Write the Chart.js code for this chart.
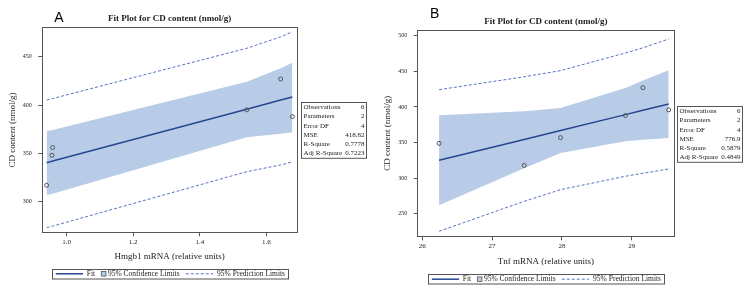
<!DOCTYPE html>
<html>
<head>
<meta charset="utf-8">
<script src="https://cdn.jsdelivr.net/npm/chart.js@4.4.1/dist/chart.umd.min.js"></script>
<style>
  html, body { margin: 0; padding: 0; background: #fff; }
  #wrap { position: relative; width: 749px; height: 291px; overflow: hidden; }
  canvas { position: absolute; top: 0; }
  #chartA { left: 0; }
  #chartB { left: 375px; }
</style>
</head>
<body>
<div id="wrap">
  <canvas id="chartA" width="375" height="291"></canvas>
  <canvas id="chartB" width="374" height="291"></canvas>
</div>
<script>
// Panel A - Hmgb1 mRNA vs CD content
const hmgbX = [0.94, 0.956, 0.958, 1.541, 1.643, 1.678];
const hmgbCD = [317, 348, 356, 395, 427, 388];
const hmgbFit = [340.3, 341.8, 342.0, 395.7, 405.1, 408.3];
const hmgbConfLo = [306.9, 308.0, 308.2, 366.6, 370.3, 371.8];
const hmgbConfHi = [373.1, 374.0, 374.2, 424.1, 438.0, 443.8];
const hmgbPredLo = [273.1, 274.5, 274.7, 331.0, 338.0, 341.3];
const hmgbPredHi = [405.2, 406.5, 406.7, 458.7, 470.5, 475.8];
const hmgbTicks = [1.0, 1.2, 1.4, 1.6];
const cdTicksA = [300, 350, 400, 450];
const hmgbStats = ['6', '2', '4', '418.82', '0.7778', '0.7223'];

// Panel B - Tnf mRNA vs CD content
const tnfX = [26.24, 27.46, 27.98, 28.91, 29.16, 29.53];
const tnfCD = [349, 318, 357, 388, 427, 396];
const tnfFit = [325.2, 354.5, 367.0, 389.3, 395.3, 404.2];
const tnfConfLo = [262.0, 314.0, 335.5, 351.9, 354.0, 356.5];
const tnfConfHi = [388.3, 394.0, 398.6, 426.7, 437.0, 451.5];
const tnfPredLo = [225.6, 267.7, 284.0, 302.8, 307.0, 313.0];
const tnfPredHi = [424.3, 442.4, 451.0, 475.8, 483.0, 495.4];
const tnfTicks = [26, 27, 28, 29];
const cdTicksB = [250, 300, 350, 400, 450, 500];
const tnfStats = ['6', '2', '4', '776.9', '0.5879', '0.4849'];

const statLabels = ['Observations', 'Parameters', 'Error DF', 'MSE', 'R-Square', 'Adj R-Square'];
const legendLabels = ['Fit', '95% Confidence Limits', '95% Prediction Limits'];
const plotTitle = 'Fit Plot for CD content (nmol/g)';

const fitColor = '#26478f';
const bandColor = '#b8cce8';
const predColor = '#5573c0';
const markColor = '#555';
const frameColor = '#555';
const textColor = '#222';
const serif = "'Liberation Serif', 'DejaVu Serif', serif";

// frame, panel letter, title, stats table and boxed legend
const decor = {
    id: 'decor',
    afterDraw(chart, args, o) {
        const { ctx, chartArea: a } = chart;
        ctx.save();

        // frame round the plot
        const L = Math.round(a.left - 0.5) + 0.5, R = Math.round(a.right - 0.5) + 0.5;
        const T = Math.round(a.top - 0.5) + 0.5, B = Math.round(a.bottom - 0.5) + 0.5;
        ctx.strokeStyle = frameColor;
        ctx.lineWidth = 1;
        ctx.setLineDash([]);
        ctx.strokeRect(L, T, R - L, B - T);

        // panel letter
        ctx.fillStyle = '#000';
        ctx.font = "14px 'Liberation Sans', Arial, sans-serif";
        ctx.textAlign = 'left';
        ctx.textBaseline = 'alphabetic';
        ctx.fillText(o.letter, o.letterX, o.letterY);

        // title
        const cx = (a.left + a.right) / 2;
        ctx.fillStyle = textColor;
        ctx.font = `bold 9px ${serif}`;
        ctx.textAlign = 'center';
        ctx.fillText(plotTitle, cx, a.top - 6.5);

        // stats table
        const sw = 65, rowH = 9.3, sh = rowH * statLabels.length;
        const sx = Math.round(a.right + o.statGap) + 0.5;
        const sy = Math.round((a.top + a.bottom) / 2 - sh / 2 + o.statShift) + 0.5;
        ctx.fillStyle = '#fff';
        ctx.fillRect(sx, sy, sw, sh);
        ctx.strokeStyle = frameColor;
        ctx.strokeRect(sx, sy, sw, sh);
        ctx.fillStyle = textColor;
        ctx.font = `7px ${serif}`;
        ctx.textBaseline = 'middle';
        statLabels.forEach((lab, i) => {
            const ry = sy + rowH * (i + 0.5);
            ctx.textAlign = 'left';
            ctx.fillText(lab, sx + 2, ry);
            ctx.textAlign = 'right';
            ctx.fillText(o.stats[i], sx + sw - 2, ry);
        });

        // legend
        ctx.font = `7.5px ${serif}`;
        const items = legendLabels.map(lab => chart.data.datasets.find(d => d.label === lab));
        const sample = { line: 27.3, box: 4.6 };
        const gapAfter = { line: 3.7, box: 2, dash: 4 };
        let total = 3.3;
        items.forEach((d, i) => {
            const kind = d.legendKind;
            total += (kind === 'box' ? sample.box : sample.line) + gapAfter[kind] + ctx.measureText(d.label).width;
            if (i < items.length - 1) total += 6.2;
        });
        total += 3.3;
        const lh = 9.5;
        const lx = Math.round(cx - total / 2) + 0.5;
        const ly = Math.round(o.legendY - lh / 2) + 0.5;
        ctx.strokeStyle = frameColor;
        ctx.lineWidth = 1;
        ctx.strokeRect(lx, ly, Math.round(total), lh);
        let x = lx + 3.3;
        const my = o.legendY;
        items.forEach((d, i) => {
            const kind = d.legendKind;
            if (kind === 'box') {
                ctx.fillStyle = bandColor;
                ctx.fillRect(x, my - 2.3, sample.box, sample.box);
                ctx.strokeStyle = frameColor;
                ctx.lineWidth = 0.8;
                ctx.strokeRect(x, my - 2.3, sample.box, sample.box);
                x += sample.box;
            } else {
                ctx.strokeStyle = d.borderColor;
                ctx.lineWidth = kind === 'line' ? 1.5 : 1;
                ctx.setLineDash(kind === 'dash' ? d.borderDash : []);
                ctx.beginPath();
                ctx.moveTo(x, my);
                ctx.lineTo(x + sample.line, my);
                ctx.stroke();
                ctx.setLineDash([]);
                x += sample.line;
            }
            x += gapAfter[kind];
            ctx.fillStyle = textColor;
            ctx.textAlign = 'left';
            ctx.textBaseline = 'middle';
            ctx.fillText(d.label, x, my);
            x += ctx.measureText(d.label).width + 6.2;
        });
        ctx.restore();
    }
};

const fitChart = (id, c) => {
    const pts = v => c.xs.map((x, i) => ({ x, y: v[i] }));
    const clear = 'rgba(0,0,0,0)';
    return new Chart(document.getElementById(id), {
        type: 'scatter',
        data: {
            datasets: [
                { label: legendLabels[1], legendKind: 'box', data: pts(c.confHi), showLine: true, fill: '+1',
                  backgroundColor: bandColor, borderColor: clear, borderWidth: 0, pointRadius: 0, order: 4 },
                { label: 'conf lower', data: pts(c.confLo), showLine: true, fill: false,
                  borderColor: clear, borderWidth: 0, pointRadius: 0, order: 4 },
                { label: legendLabels[2], legendKind: 'dash', data: pts(c.predHi), showLine: true,
                  borderColor: predColor, borderWidth: 1, borderDash: [3, 2], pointRadius: 0, order: 3 },
                { label: 'pred lower', data: pts(c.predLo), showLine: true,
                  borderColor: predColor, borderWidth: 1, borderDash: [3, 2], pointRadius: 0, order: 3 },
                { label: legendLabels[0], legendKind: 'line', data: pts(c.fit), showLine: true,
                  borderColor: fitColor, borderWidth: 1.5, pointRadius: 0, order: 2 },
                { label: 'CD content', data: pts(c.obs), showLine: false, pointRadius: 2,
                  pointBorderColor: markColor, pointBackgroundColor: clear, pointBorderWidth: 1, order: 1 }
            ]
        },
        options: {
            responsive: false,
            animation: false,
            layout: { padding: c.pad },
            plugins: {
                legend: { display: false },
                tooltip: { enabled: false },
                decor: c.decor
            },
            scales: {
                x: {
                    type: 'linear',
                    min: c.xMin,
                    max: c.xMax,
                    afterBuildTicks: s => { s.ticks = c.xTicks.map(v => ({ value: v })); },
                    afterFit: s => { s.height = c.xAxisH; },
                    grid: { drawOnChartArea: false, color: frameColor, tickLength: 4 },
                    border: { display: false },
                    ticks: { font: { family: serif, size: 7 }, color: textColor, padding: 1.5,
                             maxRotation: 0, autoSkip: false, callback: c.xFmt },
                    title: { display: true, text: c.xTitle, font: { family: serif, size: 9 }, color: textColor, padding: 0 }
                },
                y: {
                    type: 'linear',
                    min: c.yMin,
                    max: c.yMax,
                    afterBuildTicks: s => { s.ticks = c.yTicks.map(v => ({ value: v })); },
                    afterFit: s => { s.width = c.yAxisW; },
                    grid: { drawOnChartArea: false, color: frameColor, tickLength: 4 },
                    border: { display: false },
                    ticks: { font: { family: serif, size: 6 }, color: textColor, padding: 6.5, autoSkip: false },
                    title: { display: true, text: 'CD content (nmol/g)', font: { family: serif, size: 9 }, color: textColor,
                             padding: { top: 7, bottom: 0 } }
                }
            }
        },
        plugins: [decor]
    });
};

fitChart('chartA', {
    xs: hmgbX, obs: hmgbCD, fit: hmgbFit,
    confLo: hmgbConfLo, confHi: hmgbConfHi, predLo: hmgbPredLo, predHi: hmgbPredHi,
    xTicks: hmgbTicks, yTicks: cdTicksA, xFmt: v => v.toFixed(1),
    xMin: 0.927, xMax: 1.692, yMin: 268.3, yMax: 480,
    xTitle: 'Hmgb1 mRNA (relative units)',
    xAxisH: 30, yAxisW: 42.3,
    pad: { top: 27.7, right: 78, bottom: 28.7, left: 0 },
    decor: { letter: 'A', letterX: 54.3, letterY: 21.7, stats: hmgbStats, statGap: 3.5, statShift: 0, legendY: 273.8 }
});

fitChart('chartB', {
    xs: tnfX, obs: tnfCD, fit: tnfFit,
    confLo: tnfConfLo, confHi: tnfConfHi, predLo: tnfPredLo, predHi: tnfPredHi,
    xTicks: tnfTicks, yTicks: cdTicksB, xFmt: v => String(v),
    xMin: 25.934, xMax: 29.606, yMin: 218.6, yMax: 507.6,
    xTitle: 'Tnf mRNA (relative units)',
    xAxisH: 31, yAxisW: 42.7,
    pad: { top: 30.3, right: 75, bottom: 23.7, left: 0 },
    decor: { letter: 'B', letterX: 55, letterY: 18.3, stats: tnfStats, statGap: 2.5, statShift: 1, legendY: 279.2 }
});
</script>
</body>
</html>
